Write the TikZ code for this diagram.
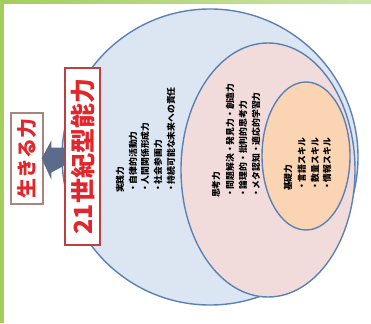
\documentclass[tikz,border=0pt]{standalone}
\usepackage{fontspec}
\newfontfamily\jp{Noto Sans CJK JP}
\usetikzlibrary{calc}
\definecolor{gframe}{HTML}{A3CE5C}
\definecolor{gframeL}{HTML}{CDE5AB}
\definecolor{ringblue}{HTML}{5A82B6}
\definecolor{outerfill}{HTML}{DCE6F2}
\definecolor{midfill}{HTML}{F2DCDB}
\definecolor{innerfill}{HTML}{FBD5B3}
\definecolor{redtxt}{HTML}{E2262B}
\definecolor{redbox}{HTML}{BE3F42}
\definecolor{graybox}{HTML}{A8867F}
\definecolor{arrowc}{HTML}{5B6B8C}
\tikzset{
  ring/.style={draw=ringblue, line width=1.4pt},
  item/.style={rotate=90, anchor=west, inner sep=0pt, font=\jp\bfseries\fontsize{8.8}{10}\selectfont, text=black},
}
\begin{document}
\begin{tikzpicture}[x=1pt,y=-1pt]
\useasboundingbox (0,0) rectangle (371,323);
\fill[white] (0,0) rectangle (371,323);
% frame
\shade[left color=gframe, right color=gframeL] (0,0) rectangle (371,3.5);
\fill[gframe] (0,0) rectangle (4,323);
% rings
\draw[ring, fill=outerfill] (210,157) ellipse [x radius=148, y radius=148];
\draw[ring, fill=midfill] (268,170) ellipse [x radius=87, y radius=127];
\draw[ring, fill=innerfill] (306,156) ellipse [x radius=44, y radius=74];
% boxes
\node (big) [rotate=90, draw=redbox, line width=1.4pt, fill=white, minimum width=177pt, minimum height=35pt, inner sep=0pt, text=redtxt, font=\jp\bfseries\fontsize{25}{27}\selectfont] at (82.5,156.5) {21世紀型能力};
\node (small) [rotate=90, draw=graybox, line width=1.2pt, fill=white, minimum width=91pt, minimum height=32pt, inner sep=0pt, text=redtxt, font=\jp\bfseries\fontsize{20}{22}\selectfont] at (27,158.5) {生きる力};
% block arrow
\fill[arrowc] ($(big.north)+(0,-9)$) -- ++(-13,0) -- ++(0,-7) -- ($(small.south)+(-2,0)$) -- ($(big.north)+(-13,23)$) -- ++(0,-7) -- ($(big.north)+(0,9)$) -- cycle;
% texts
\node (j0) [item] at (120,193) {実践力};
\node (j1) [item] at (133,193) {・自律的活動力};
\node (j2) [item] at (145,193) {・人間関係形成力};
\node (j3) [item] at (158,193) {・社会参画力};
\node (j4) [item] at (171,193) {・持続可能な未来への責任};
\node (s0) [item] at (216,198) {思考力};
\node (s1) [item] at (230,198) {・問題解決・発見力・創造力};
\node (s2) [item] at (243,198) {・論理的・批判的思考力};
\node (s3) [item] at (256,198) {・メタ認知・適応的学習力};
\node (k0) [item] at (288,191) {基礎力};
\node (k1) [item] at (302,191) {・言語スキル};
\node (k2) [item] at (315,191) {・数量スキル};
\node (k3) [item] at (327,191) {・情報スキル};
\end{tikzpicture}
\end{document}
